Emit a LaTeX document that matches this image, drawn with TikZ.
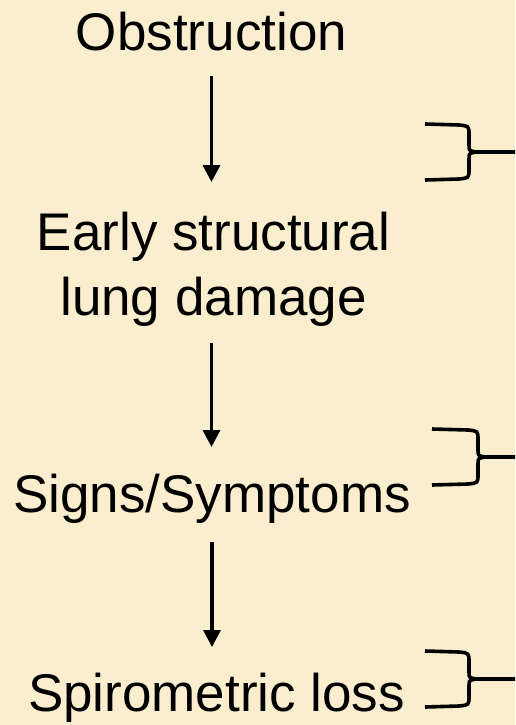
\documentclass[tikz,border=0pt]{standalone}
\usepackage{fontspec}
\setmainfont{Liberation Sans}
\usepackage{xcolor}
\definecolor{paper}{RGB}{251,238,207}
\usetikzlibrary{arrows.meta,positioning,calc}

\begin{document}
\begin{tikzpicture}[x=1pt, y=-1pt,
        stage/.style={inner sep=0pt, align=center, font=\fontsize{53}{65}\selectfont},
        flow/.style={-{Triangle[length=17pt,width=17pt]}, line width=3.4pt},
        bracket/.style={line width=3.6pt, line join=round}
    ]
        \fill[paper] (0,0) rectangle (515,725);
        \useasboundingbox (0,0) rectangle (515,725);

        \node[stage, anchor=base] (obstruction) at (211.5,51) {Obstruction};
        \node[stage, anchor=north] (damage) at (213.5,212) {Early structural\\lung damage\hspace{8pt}};
        \node[stage, anchor=base] (symptoms) at (212,512) {Signs/Symptoms};
        \node[stage, anchor=base] (spirometry) at (216.5,711) {Spirometric loss};

        \draw[flow] ($(obstruction.base)+(0,25)$) -- ($(obstruction.base |- damage.north)+(0,-30)$);
        \draw[flow] ($(damage.south -| obstruction.base)+(0,16)$) -- ($(obstruction.base |- symptoms.base)+(0,-65)$);
        \draw[flow] ($(symptoms.base)+(0,30)$) -- ($(symptoms.base |- spirometry.base)+(0,-64)$);

        \foreach \xl/\xv/\ym in {425/469/152, 432/478/457, 425/469/679}
            \draw[bracket] (\xl,\ym-28) -- (\xv-10,\ym-27) .. controls (\xv,\ym-26) .. (\xv,\ym-17) -- (\xv,\ym-7)
                .. controls (\xv,\ym-1) .. (\xv+8,\ym) .. controls (\xv,\ym+1) .. (\xv,\ym+7) -- (\xv,\ym+17)
                .. controls (\xv,\ym+26) .. (\xv-10,\ym+27) -- (\xl,\ym+28)
                (\xv+8,\ym) -- (515,\ym);
    \end{tikzpicture}
\end{document}
